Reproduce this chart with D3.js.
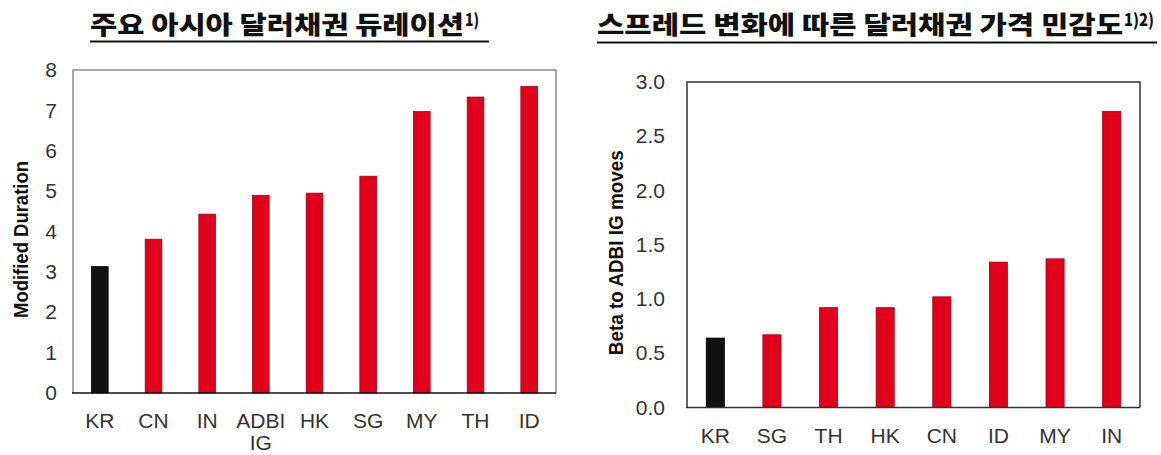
<!DOCTYPE html>
<html>
<head>
<meta charset="utf-8">
<script src="https://cdn.jsdelivr.net/npm/d3@7"></script>
<style>
  html, body { margin: 0; padding: 0; background: #fff; }
  svg text { font-family: "Liberation Sans", Arial, sans-serif; }
  .title { font-family: "Noto Sans CJK KR", sans-serif; font-weight: 900; fill: #111; }
  .tick text { fill: #333; }
</style>
</head>
<body>
<svg id="chart" width="1161" height="455"></svg>
<script>
// Modified duration of major Asian USD bonds
const durCategories = ["KR", "CN", "IN", "ADBI IG", "HK", "SG", "MY", "TH", "ID"];
const durValues = [3.13, 3.81, 4.43, 4.89, 4.95, 5.37, 6.97, 7.33, 7.59];
const durTicks = [0, 1, 2, 3, 4, 5, 6, 7, 8];

// Price beta to ADBI IG spread moves
const betaCategories = ["KR", "SG", "TH", "HK", "CN", "ID", "MY", "IN"];
const betaValues = [0.64, 0.67, 0.92, 0.92, 1.02, 1.34, 1.37, 2.73];
const betaTicks = [0, 0.5, 1.0, 1.5, 2.0, 2.5, 3.0];

const RED = "#e1001b";
const BLACK = "#111";

const svg = d3.select("#chart");

function title(x, y, text, sup, width, supWidth) {
  const t = svg.append("text").attr("class", "title")
    .attr("x", x).attr("y", y)
    .style("font-size", "25px");
  t.append("tspan").text(text)
    .attr("textLength", width).attr("lengthAdjust", "spacingAndGlyphs");
  t.append("tspan").text(sup)
    .attr("dy", -8).attr("dx", 1)
    .attr("textLength", supWidth).attr("lengthAdjust", "spacingAndGlyphs")
    .style("font-size", "17px");
}

function panel(opts) {
  const { cats, vals, ticks, left, right, top, bottom, max, fmt,
          tickGap, frameColor, axisColor, yTitle, yTitleX, yTitleLen, labelY, pad } = opts;

  const x = d3.scaleBand().domain(cats).range([left, right])
    .paddingInner(pad).paddingOuter(pad / 2);
  const y = d3.scaleLinear().domain([0, max]).range([bottom, top]);

  const g = svg.append("g");

  // frame: top, left, right
  g.append("path")
    .attr("d", `M${left},${bottom}V${top}H${right}V${bottom}`)
    .attr("fill", "none").attr("stroke", frameColor).attr("stroke-width", 1.5);

  // bars
  g.selectAll("rect.bar").data(cats).join("rect")
    .attr("class", "bar")
    .attr("x", d => x(d))
    .attr("width", x.bandwidth())
    .attr("y", (d, i) => y(vals[i]))
    .attr("height", (d, i) => y(0) - y(vals[i]))
    .attr("fill", (d, i) => i === 0 ? BLACK : RED)
    .attr("stroke", (d, i) => i === 0 ? "#000" : "#a8000f")
    .attr("stroke-width", 0.8);

  // y axis labels
  const yAxis = d3.axisLeft(y).tickValues(ticks).tickFormat(fmt)
    .tickSize(0).tickPadding(tickGap);
  const ya = g.append("g").attr("transform", `translate(${left},0)`).call(yAxis);
  ya.select(".domain").remove();
  ya.selectAll("text").style("font-size", "21px");

  // x axis
  const xAxis = d3.axisBottom(x).tickSize(0).tickPadding(0).tickFormat("");
  const xa = g.append("g").attr("transform", `translate(0,${bottom})`).call(xAxis);
  xa.select(".domain").attr("stroke", axisColor).attr("stroke-width", 1.6)
    .attr("d", `M${left - 1},0H${right}`);
  xa.selectAll(".tick").each(function (d) {
    const parts = d.split(" ");
    const t = d3.select(this).append("text")
      .attr("fill", "#333").attr("text-anchor", "middle")
      .style("font-size", "21px");
    parts.forEach((p, i) => {
      t.append("tspan").attr("x", 0).attr("y", labelY - bottom + i * 22).text(p);
    });
  });

  // y title
  svg.append("text")
    .attr("transform", `translate(${yTitleX},${(top + bottom) / 2 + 8}) rotate(-90)`)
    .attr("text-anchor", "middle")
    .attr("textLength", yTitleLen).attr("lengthAdjust", "spacingAndGlyphs")
    .style("font-size", "20px").style("font-weight", 700).attr("fill", "#111")
    .text(yTitle);
}

title(90, 34, "주요 아시아 달러채권 듀레이션", "1)", 374, 14);
svg.append("line").attr("x1", 90).attr("x2", 489).attr("y1", 41.5).attr("y2", 41.5)
  .attr("stroke", "#111").attr("stroke-width", 2);

title(597, 34, "스프레드 변화에 따른 달러채권 가격 민감도", "1)2)", 526, 30);
svg.append("line").attr("x1", 597).attr("x2", 1157).attr("y1", 42.5).attr("y2", 42.5)
  .attr("stroke", "#111").attr("stroke-width", 2);

panel({
  cats: durCategories, vals: durValues, ticks: durTicks,
  left: 73, right: 556, top: 70, bottom: 393, max: 8,
  fmt: d3.format("d"), tickGap: 16,
  frameColor: "#8c8c8c", axisColor: "#111",
  yTitle: "Modified Duration", yTitleX: 28, yTitleLen: 157,
  labelY: 428, pad: 0.69
});

panel({
  cats: betaCategories, vals: betaValues, ticks: betaTicks,
  left: 687, right: 1140, top: 82, bottom: 407.5, max: 3,
  fmt: d3.format(".1f"), tickGap: 22,
  frameColor: "#333", axisColor: "#333",
  yTitle: "Beta to ADBI IG moves", yTitleX: 623, yTitleLen: 205,
  labelY: 443, pad: 0.68
});
</script>
</body>
</html>
